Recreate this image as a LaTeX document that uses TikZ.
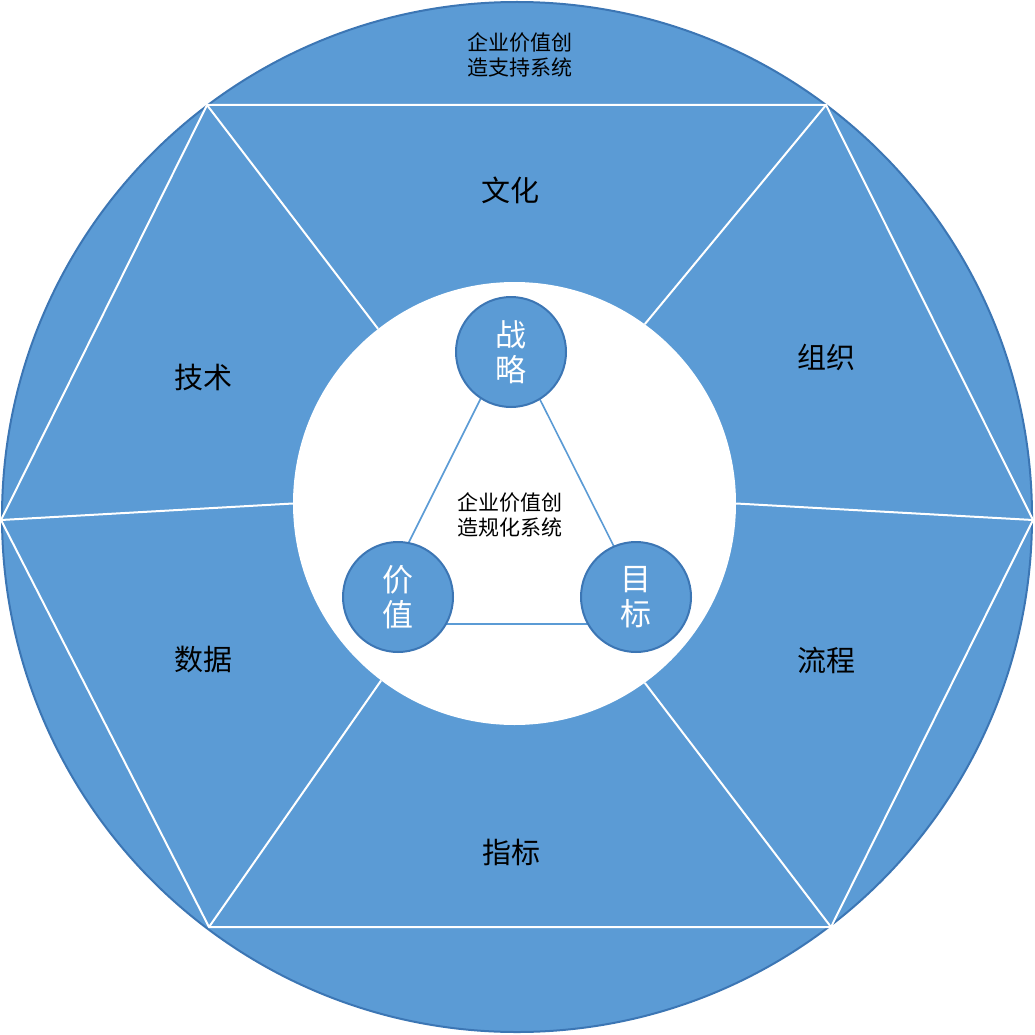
\documentclass[tikz,border=0pt]{standalone}
\usepackage{fontspec}
\setmainfont{Noto Sans CJK SC}
\definecolor{fillblue}{HTML}{5B9BD5}
\definecolor{edgeblue}{HTML}{3C76B4}
\begin{document}
\begin{tikzpicture}[x=1pt,y=-1pt,
  bigdisk/.style={circle,fill=fillblue,draw=edgeblue,line width=2pt,minimum size=1030pt,inner sep=0pt},
  hole/.style={circle,fill=white,minimum size=443pt,inner sep=0pt},
  seg/.style={draw=white,line width=2pt},
  tri/.style={draw=fillblue,line width=1.6pt},
  ball/.style={circle,fill=fillblue,draw=edgeblue,line width=2pt,minimum size=110pt,inner sep=0pt,
    text=white,align=center,font=\fontsize{31}{35}\selectfont},
  sectortext/.style={font=\fontsize{29}{32}\selectfont,text=black,inner sep=0pt},
  smalltext/.style={font=\fontsize{21}{25}\selectfont,text=black,align=center,inner sep=0pt}]
\useasboundingbox (0,0) rectangle (1035,1035);
\node[bigdisk] (outer) at (517,517) {};
\coordinate (h1) at (207,105);
\coordinate (h2) at (826,105);
\coordinate (h3) at (1033,520);
\coordinate (h4) at (831,927);
\coordinate (h5) at (209,927);
\coordinate (h6) at (1,520);
\draw[seg] (h1) -- (h2) -- (h3) -- (h4) -- (h5) -- (h6) -- cycle;
\node[hole] (inner) at (514.5,503.5) {};
\draw[seg] (h1) -- (inner.128);
\draw[seg] (h2) -- (inner.54);
\draw[seg] (h3) -- (inner.0);
\draw[seg] (h4) -- (inner.-54);
\draw[seg] (h5) -- (inner.-127);
\draw[seg] (h6) -- (inner.180);
\coordinate (t1) at (510,340);
\coordinate (t2) at (368,624);
\coordinate (t3) at (653,624);
\draw[tri] (t1) -- (t2) -- (t3) -- cycle;
\node[ball] (zl) at (511,352) {战\\略};
\node[ball] (jz) at (398,597) {价\\值};
\node[ball] (mb) at (636,597) {目\\标};
\node[smalltext] (top) at (520,55) {企业价值创\\造支持系统};
\node[smalltext] (mid) at (510,515) {企业价值创\\造规化系统};
\node[sectortext] (wh) at (510,190) {文化};
\node[sectortext] (zz) at (826,357) {组织};
\node[sectortext] (lc) at (826,660) {流程};
\node[sectortext] (zb) at (511,852) {指标};
\node[sectortext] (sj) at (203,660) {数据};
\node[sectortext] (js) at (203,377) {技术};
\end{tikzpicture}
\end{document}
